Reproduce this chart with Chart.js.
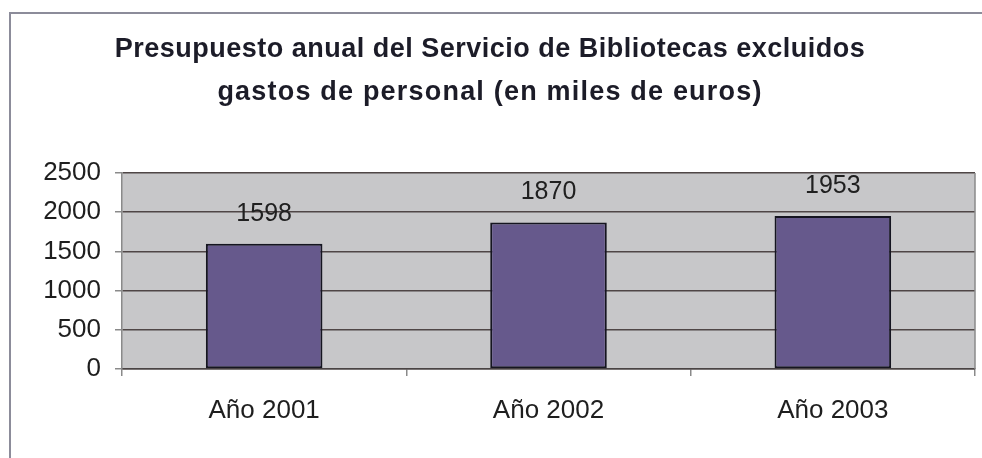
<!DOCTYPE html>
<html>
<head>
<meta charset="utf-8">
<script src="https://cdn.jsdelivr.net/npm/chart.js@4"></script>
<style>
  html, body { margin: 0; padding: 0; background: #ffffff; }
  #wrap { width: 982px; height: 458px; position: relative; }
</style>
</head>
<body>
<div id="wrap"><canvas id="c" width="982" height="458"></canvas></div>
<script>
const titleLines = ["Presupuesto anual del Servicio de Bibliotecas excluidos", "gastos de personal (en miles de euros)"];
const categories = ["Año 2001", "Año 2002", "Año 2003"];
const budgetValues = [1598, 1870, 1953];
const yTicks = [0, 500, 1000, 1500, 2000, 2500];

const FONT = "'Liberation Sans', Arial, sans-serif";

const framePlugin = {
  id: 'frame',
  beforeDraw(chart) {
    const ctx = chart.ctx;
    const a = chart.chartArea;
    ctx.save();
    ctx.fillStyle = '#ffffff';
    ctx.fillRect(0, 0, chart.width, chart.height);
    // outer chart border
    ctx.strokeStyle = '#8c8c9a';
    ctx.lineWidth = 2;
    ctx.beginPath();
    ctx.moveTo(982, 13);
    ctx.lineTo(10, 13);
    ctx.lineTo(10, 458);
    ctx.stroke();
    // plot background
    ctx.fillStyle = '#c7c7c9';
    ctx.fillRect(a.left, a.top, a.right - a.left, a.bottom - a.top);
    ctx.restore();
  },
  afterDraw(chart) {
    const ctx = chart.ctx;
    const a = chart.chartArea;
    ctx.save();
    // plot right border
    ctx.strokeStyle = '#8a8a8a';
    ctx.lineWidth = 1.5;
    ctx.beginPath();
    ctx.moveTo(a.right, a.top);
    ctx.lineTo(a.right, a.bottom);
    ctx.stroke();
    // title
    ctx.fillStyle = '#1c1c28';
    ctx.font = "bold 27px " + FONT;
    ctx.textAlign = 'center';
    ctx.textBaseline = 'middle';
    if ('letterSpacing' in ctx) ctx.letterSpacing = '0.5px';
    ctx.fillText(titleLines[0], 490, 50);
    if ('letterSpacing' in ctx) ctx.letterSpacing = '1.2px';
    ctx.fillText(titleLines[1], 490, 93);
    if ('letterSpacing' in ctx) ctx.letterSpacing = '0px';
    // data labels
    ctx.font = "25px " + FONT;
    ctx.fillStyle = '#202020';
    const meta = chart.getDatasetMeta(0);
    meta.data.forEach((bar, i) => {
      ctx.fillText(String(budgetValues[i]), bar.x, bar.y - 30);
    });
    ctx.restore();
  }
};

new Chart(document.getElementById('c'), {
  type: 'bar',
  data: {
    labels: categories,
    datasets: [{
      data: budgetValues,
      backgroundColor: '#66598c',
      borderColor: '#151520',
      borderWidth: 2,
      borderSkipped: false,
      categoryPercentage: 1.0,
      barPercentage: 0.41
    }]
  },
  options: {
    responsive: false,
    animation: false,
    devicePixelRatio: 1,
    layout: { padding: { top: 173, right: 7, bottom: 0, left: 0 } },
    plugins: {
      legend: { display: false },
      title: { display: false },
      tooltip: { enabled: false }
    },
    scales: {
      x: {
        grid: {
          offset: true,
          drawOnChartArea: false,
          drawTicks: true,
          tickLength: 7,
          color: '#8a8a8a',
          lineWidth: 1.5
        },
        border: { display: true, color: '#4a4444', width: 1.5 },
        ticks: {
          color: '#1e1e1e',
          font: { family: FONT, size: 26 },
          padding: 19
        },
        afterFit(scale) { scale.height = 89; }
      },
      y: {
        min: 0,
        max: 2500,
        afterBuildTicks(scale) { scale.ticks = yTicks.map(v => ({ value: v })); },
        grid: {
          color: '#4f4646',
          lineWidth: 1.5,
          drawTicks: true,
          tickLength: 7,
          tickColor: '#8a8a8a'
        },
        border: { display: true, color: '#8a8a8a', width: 1.5 },
        ticks: {
          color: '#1e1e1e',
          font: { family: FONT, size: 26 },
          padding: 14,
          callback: (v) => String(v)
        },
        afterFit(scale) { scale.width = 122; }
      }
    }
  },
  plugins: [framePlugin]
});
</script>
</body>
</html>
